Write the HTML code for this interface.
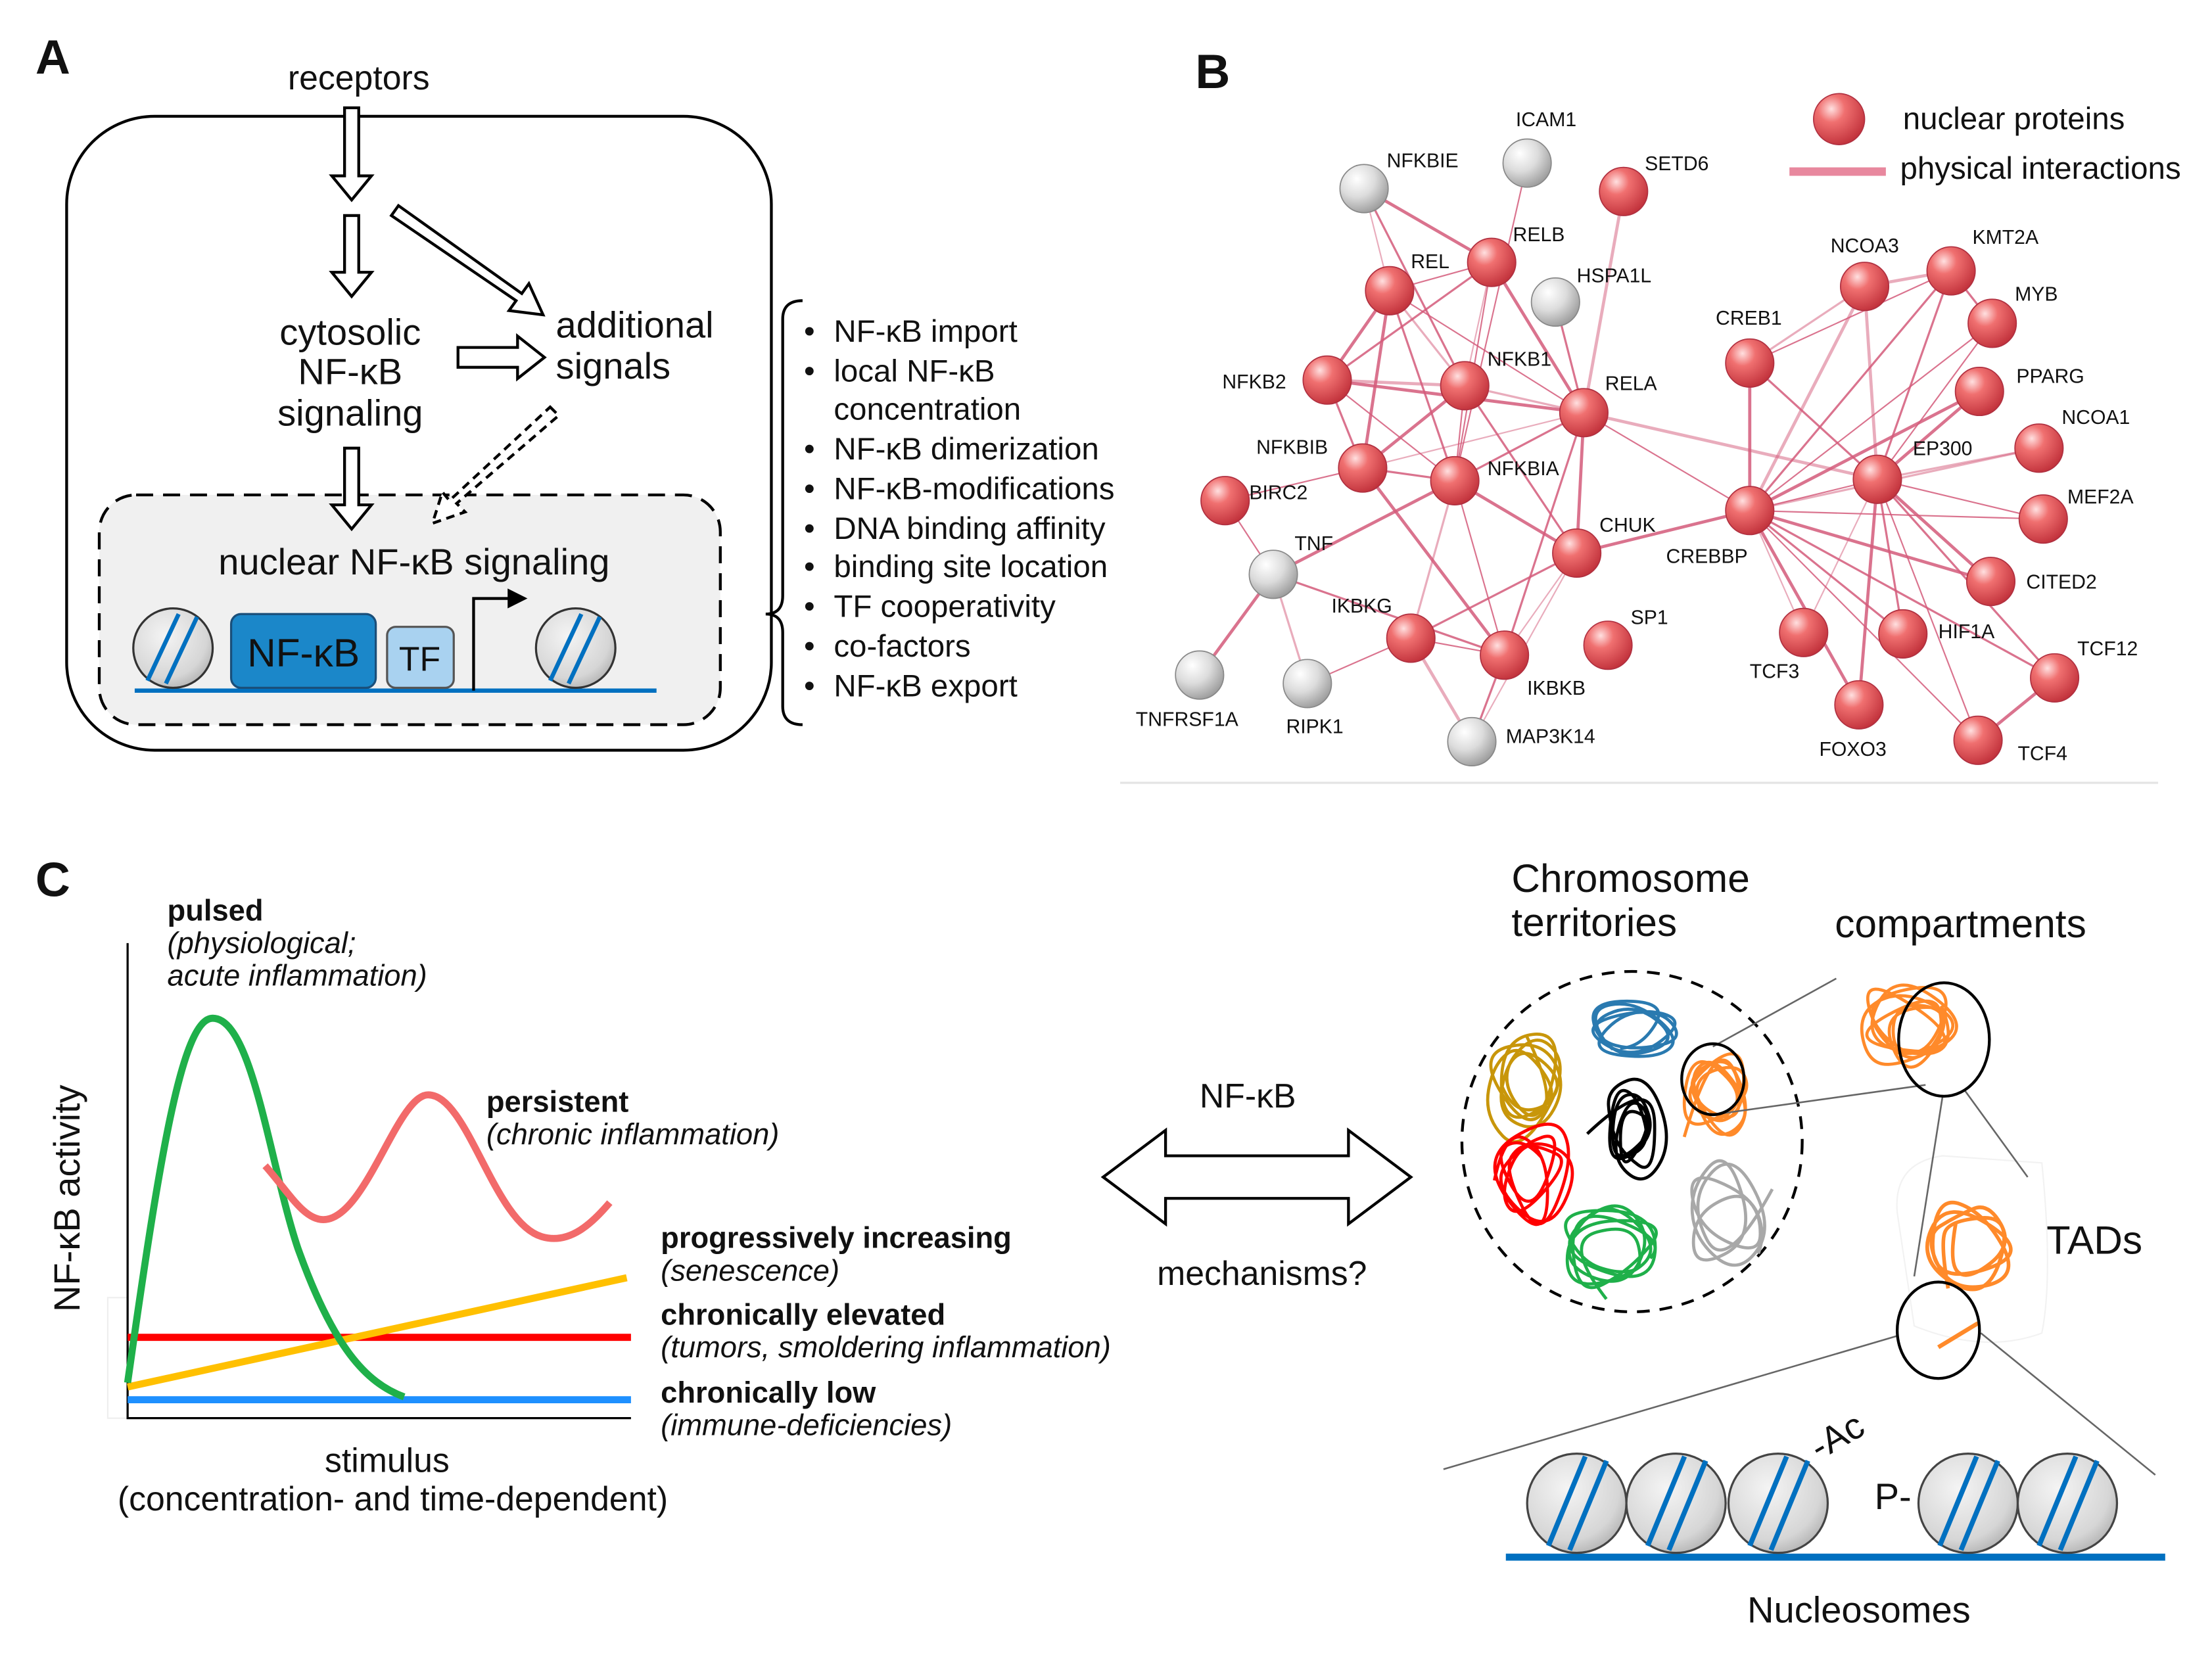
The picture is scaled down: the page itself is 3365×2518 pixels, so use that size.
<!DOCTYPE html>
<html><head><meta charset="utf-8"><style>
html,body{margin:0;padding:0;background:#fff}
svg{display:block}
text{font-family:"Liberation Sans",sans-serif;fill:#111}
.b{font-weight:bold}
.i{font-style:italic}
.nl{font-size:14px}
</style></head><body>
<svg id="s" width="3365" height="2518" viewBox="0 0 1560 1167" preserveAspectRatio="none" xmlns="http://www.w3.org/2000/svg">
<defs>
<radialGradient id="gr" cx="0.35" cy="0.3" r="0.75"><stop offset="0" stop-color="#ffe0e0"/><stop offset="0.35" stop-color="#f07070"/><stop offset="1" stop-color="#c0303a"/></radialGradient>
<radialGradient id="gg" cx="0.35" cy="0.3" r="0.75"><stop offset="0" stop-color="#ffffff"/><stop offset="0.5" stop-color="#dcdcdc"/><stop offset="1" stop-color="#9a9a9a"/></radialGradient>
<radialGradient id="gn" cx="0.4" cy="0.35" r="0.75"><stop offset="0" stop-color="#f4f4f4"/><stop offset="0.7" stop-color="#d6d6d6"/><stop offset="1" stop-color="#a8a8a8"/></radialGradient>
</defs>

<!-- PANEL A -->
<text x="25" y="52" class="b" font-size="34">A</text>
<text x="253" y="63" font-size="24" text-anchor="middle">receptors</text>
<rect x="47" y="82" width="497" height="447" rx="62" fill="none" stroke="#000" stroke-width="2"/>
<rect x="70" y="349" width="438" height="162" rx="26" fill="#f0f0f0" stroke="#000" stroke-width="2" stroke-dasharray="12,7"/>
<g fill="#fff" stroke="#000" stroke-width="2">
<path d="M243,76 h10 v48 h9 l-14,17 l-14,-17 h9 z"/>
<path d="M243,152 h10 v40 h9 l-14,17 l-14,-17 h9 z"/>
<path d="M243,316 h10 v40 h9 l-14,17 l-14,-17 h9 z"/>
<path d="M323,245 h42 v-8 l19,15 l-19,15 v-8 h-42 z"/>
<path d="M276,152 l5,-7 l87,62 l5,-7 l10,22 l-24,-3 l5,-7 z"/>
<path d="M388,287 l6,6 l-72,62 l6,6 l-23,8 l7,-22 l5,6 z" stroke-dasharray="6,4"/>
</g>
<text x="247" y="243" font-size="26" text-anchor="middle">cytosolic</text>
<text x="247" y="271" font-size="26" text-anchor="middle">NF-κB</text>
<text x="247" y="300" font-size="26" text-anchor="middle">signaling</text>
<text x="392" y="238" font-size="26">additional</text>
<text x="392" y="267" font-size="26">signals</text>
<text x="292" y="405" font-size="26" text-anchor="middle">nuclear NF-κB signaling</text>
<line x1="95" y1="487" x2="463" y2="487" stroke="#0070c0" stroke-width="3"/>
<g>
<circle cx="122" cy="457" r="28" fill="url(#gn)" stroke="#333" stroke-width="1.5"/>
<line x1="104" y1="480" x2="126" y2="433" stroke="#0070c0" stroke-width="3"/>
<line x1="117" y1="482" x2="139" y2="435" stroke="#0070c0" stroke-width="3"/>
<circle cx="406" cy="457" r="28" fill="url(#gn)" stroke="#333" stroke-width="1.5"/>
<line x1="388" y1="480" x2="410" y2="433" stroke="#0070c0" stroke-width="3"/>
<line x1="401" y1="482" x2="423" y2="435" stroke="#0070c0" stroke-width="3"/>
</g>
<rect x="163" y="433" width="102" height="52" rx="7" fill="#1b87c9" stroke="#1a4f7a" stroke-width="1.5"/>
<text x="214" y="470" font-size="28" text-anchor="middle">NF-κB</text>
<rect x="273" y="442" width="47" height="43" rx="6" fill="#a9d2f0" stroke="#555" stroke-width="1.5"/>
<text x="296" y="473" font-size="24" text-anchor="middle">TF</text>
<path d="M334,487 V422 H360" fill="none" stroke="#000" stroke-width="2"/>
<path d="M358,415 L372,422 L358,429 z" fill="#000"/>
<path d="M566,212 Q552,212 552,225 V420 Q552,433 540,433 Q552,433 552,446 V498 Q552,511 566,511" fill="none" stroke="#000" stroke-width="2"/>
<g font-size="22">
<text x="567" y="241">•</text><text x="588" y="241">NF-κB import</text>
<text x="567" y="269">•</text><text x="588" y="269">local NF-κB</text>
<text x="588" y="296">concentration</text>
<text x="567" y="324">•</text><text x="588" y="324">NF-κB dimerization</text>
<text x="567" y="352">•</text><text x="588" y="352">NF-κB-modifications</text>
<text x="567" y="380">•</text><text x="588" y="380">DNA binding affinity</text>
<text x="567" y="407">•</text><text x="588" y="407">binding site location</text>
<text x="567" y="435">•</text><text x="588" y="435">TF cooperativity</text>
<text x="567" y="463">•</text><text x="588" y="463">co-factors</text>
<text x="567" y="491">•</text><text x="588" y="491">NF-κB export</text>
</g>

<!-- PANEL B -->
<text x="843" y="62" class="b" font-size="34">B</text>
<line x1="790" y1="552" x2="1522" y2="552" stroke="#e4e4e4" stroke-width="1.5"/>
<g id="edges" stroke="#d45a7a" stroke-linecap="round"></g>
<g id="nodes"></g>
<circle cx="1297" cy="84" r="18" fill="url(#gr)" stroke="#b03040" stroke-width="0.8"/>
<text x="1342" y="91" font-size="22">nuclear proteins</text>
<line x1="1262" y1="121" x2="1330" y2="121" stroke="#e8889e" stroke-width="6"/>
<text x="1340" y="126" font-size="22">physical interactions</text>
<g class="nl">
<text x="1069" y="89">ICAM1</text>
<text x="978" y="118">NFKBIE</text>
<text x="1160" y="120">SETD6</text>
<text x="1067" y="170">RELB</text>
<text x="995" y="189">REL</text>
<text x="1112" y="199">HSPA1L</text>
<text x="862" y="274">NFKB2</text>
<text x="1049" y="258">NFKB1</text>
<text x="1132" y="275">RELA</text>
<text x="886" y="320">NFKBIB</text>
<text x="1049" y="335">NFKBIA</text>
<text x="881" y="352">BIRC2</text>
<text x="913" y="388">TNF</text>
<text x="1128" y="375">CHUK</text>
<text x="939" y="432">IKBKG</text>
<text x="1077" y="490">IKBKB</text>
<text x="1150" y="440">SP1</text>
<text x="801" y="512">TNFRSF1A</text>
<text x="907" y="517">RIPK1</text>
<text x="1062" y="524">MAP3K14</text>
<text x="1210" y="229">CREB1</text>
<text x="1291" y="178">NCOA3</text>
<text x="1391" y="172">KMT2A</text>
<text x="1421" y="212">MYB</text>
<text x="1422" y="270">PPARG</text>
<text x="1454" y="299">NCOA1</text>
<text x="1349" y="321">EP300</text>
<text x="1458" y="355">MEF2A</text>
<text x="1175" y="397">CREBBP</text>
<text x="1429" y="415">CITED2</text>
<text x="1367" y="450">HIF1A</text>
<text x="1234" y="478">TCF3</text>
<text x="1465" y="462">TCF12</text>
<text x="1283" y="533">FOXO3</text>
<text x="1423" y="536">TCF4</text>
</g>

<!-- PANEL C -->
<text x="25" y="632" class="b" font-size="34">C</text>
<text x="118" y="649" class="b" font-size="21">pulsed</text>
<text x="118" y="672" class="i" font-size="21">(physiological;</text>
<text x="118" y="695" class="i" font-size="21">acute inflammation)</text>
<rect x="76" y="915" width="14" height="85" fill="none" stroke="#eee"/>
<path d="M90,665 V1000 H445" fill="none" stroke="#000" stroke-width="1.5"/>
<text transform="translate(56,845) rotate(-90)" font-size="26" text-anchor="middle">NF-κB activity</text>
<text x="273" y="1038" font-size="24" text-anchor="middle">stimulus</text>
<text x="277" y="1065" font-size="24" text-anchor="middle">(concentration- and time-dependent)</text>
<line x1="90" y1="987" x2="445" y2="987" stroke="#1e90ff" stroke-width="5"/>
<line x1="90" y1="943" x2="445" y2="943" stroke="#ff0000" stroke-width="5"/>
<line x1="90" y1="978" x2="442" y2="901" stroke="#ffc000" stroke-width="5"/>
<path d="M90,975 C112,820 128,718 150,718 C178,718 190,820 210,880 C235,950 258,975 285,985" fill="none" stroke="#1fb04a" stroke-width="5"/>
<path d="M187,822 C203,840 214,860 228,860 C258,860 280,772 302,772 C330,772 348,862 382,872 C402,878 418,862 430,848" fill="none" stroke="#f26a6a" stroke-width="5"/>
<text x="343" y="784" class="b" font-size="21">persistent</text>
<text x="343" y="807" class="i" font-size="21">(chronic inflammation)</text>
<text x="466" y="880" class="b" font-size="21">progressively increasing</text>
<text x="466" y="903" class="i" font-size="21">(senescence)</text>
<text x="466" y="934" class="b" font-size="21">chronically elevated</text>
<text x="466" y="957" class="i" font-size="21">(tumors, smoldering inflammation)</text>
<text x="466" y="989" class="b" font-size="21">chronically low</text>
<text x="466" y="1012" class="i" font-size="21">(immune-deficiencies)</text>
<path d="M778,830 L822,797 V815 H951 V797 L995,830 L951,863 V845 H822 V863 z" fill="#fff" stroke="#000" stroke-width="2"/>
<text x="880" y="781" font-size="24" text-anchor="middle">NF-κB</text>
<text x="890" y="906" font-size="24" text-anchor="middle">mechanisms?</text>
<text x="1066" y="629" font-size="28">Chromosome</text>
<text x="1066" y="660" font-size="28">territories</text>
<text x="1294" y="661" font-size="28">compartments</text>
<text x="1443" y="884" font-size="28">TADs</text>
<circle cx="1151" cy="805" r="120" fill="none" stroke="#000" stroke-width="2" stroke-dasharray="9,7"/>
<g id="scr" fill="none" stroke-width="2.2" stroke-linejoin="round"></g>
<path d="M1338,855 Q1335,820 1370,815 L1440,820 Q1448,900 1440,940 Q1400,955 1350,935 Z" fill="none" stroke="#f2f2f2" stroke-width="1"/>
<g stroke="#666" stroke-width="1.2">
<line x1="1208" y1="738" x2="1295" y2="690"/>
<line x1="1215" y1="785" x2="1358" y2="765"/>
<line x1="1370" y1="773" x2="1350" y2="900"/>
<line x1="1385" y1="768" x2="1430" y2="830"/>
<line x1="1338" y1="942" x2="1018" y2="1036"/>
<line x1="1397" y1="940" x2="1520" y2="1040"/>
</g>
<ellipse cx="1208" cy="761" rx="22" ry="25" fill="none" stroke="#000" stroke-width="2"/>
<ellipse cx="1371" cy="733" rx="32" ry="40" fill="none" stroke="#000" stroke-width="2"/>
<line x1="1367" y1="950" x2="1395" y2="933" stroke="#ff8a2a" stroke-width="3"/>
<ellipse cx="1367" cy="938" rx="29" ry="34" fill="none" stroke="#000" stroke-width="2"/>
<line x1="1062" y1="1098" x2="1527" y2="1098" stroke="#0070c0" stroke-width="5"/>
<g id="nuc"></g>
<text transform="translate(1283,1030) rotate(-30)" font-size="26">-Ac</text>
<text x="1322" y="1064" font-size="26">P-</text>
<text x="1311" y="1144" font-size="26" text-anchor="middle">Nucleosomes</text>
</svg>
<script>
var NS="http://www.w3.org/2000/svg";
function el(p,t,a){var e=document.createElementNS(NS,t);for(var k in a)e.setAttribute(k,a[k]);p.appendChild(e);return e;}
var N={ICAM1:[1077,115,0],NFKBIE:[962,133,0],SETD6:[1145,135,1],RELB:[1052,185,1],REL:[980,205,1],HSPA1L:[1097,213,0],NFKB2:[936,268,1],NFKB1:[1033,272,1],RELA:[1117,291,1],NFKBIB:[961,330,1],NFKBIA:[1026,339,1],BIRC2:[864,353,1],TNF:[898,405,0],CHUK:[1112,390,1],IKBKG:[995,450,1],IKBKB:[1061,462,1],SP1:[1134,455,1],TNFRSF1A:[846,476,0],RIPK1:[922,482,0],MAP3K14:[1038,523,0],CREB1:[1234,256,1],NCOA3:[1315,202,1],KMT2A:[1376,191,1],MYB:[1405,228,1],PPARG:[1396,276,1],NCOA1:[1438,316,1],EP300:[1324,338,1],MEF2A:[1441,366,1],CREBBP:[1234,360,1],CITED2:[1404,410,1],HIF1A:[1342,447,1],TCF3:[1272,446,1],TCF12:[1449,478,1],FOXO3:[1311,497,1],TCF4:[1395,522,1]};
var E="NFKBIE-REL NFKBIE-RELB NFKBIE-NFKB1 ICAM1-NFKBIA SETD6-RELA HSPA1L-RELA REL-RELB REL-NFKB2 REL-NFKB1 REL-RELA REL-NFKBIB REL-NFKBIA RELB-NFKB1 RELB-RELA RELB-NFKB2 RELB-NFKBIA NFKB2-NFKB1 NFKB2-NFKBIB NFKB2-NFKBIA NFKB2-RELA NFKB1-RELA NFKB1-NFKBIA NFKB1-NFKBIB RELA-NFKBIA RELA-NFKBIB RELA-CHUK RELA-IKBKB RELA-CREBBP RELA-EP300 NFKBIB-NFKBIA NFKBIB-BIRC2 NFKBIA-CHUK NFKBIA-IKBKG NFKBIA-IKBKB NFKBIB-IKBKB CHUK-IKBKG CHUK-IKBKB CHUK-CREBBP CHUK-NFKB1 IKBKG-IKBKB IKBKG-MAP3K14 IKBKB-MAP3K14 BIRC2-TNF TNF-TNFRSF1A TNF-RIPK1 RIPK1-IKBKG TNF-NFKBIA TNF-IKBKB CHUK-MAP3K14 CREB1-CREBBP CREB1-EP300 CREBBP-EP300 CREBBP-NCOA3 CREBBP-KMT2A CREBBP-MYB CREBBP-PPARG CREBBP-NCOA1 CREBBP-MEF2A CREBBP-CITED2 CREBBP-HIF1A CREBBP-TCF3 CREBBP-FOXO3 CREBBP-TCF12 CREBBP-TCF4 EP300-NCOA3 EP300-KMT2A EP300-MYB EP300-PPARG EP300-NCOA1 EP300-MEF2A EP300-CITED2 EP300-HIF1A EP300-TCF3 EP300-FOXO3 EP300-TCF12 EP300-TCF4 NCOA3-KMT2A KMT2A-MYB CREB1-KMT2A TCF4-TCF12 CREB1-NCOA3".split(" ");
var eg=document.getElementById("edges"),ng=document.getElementById("nodes");
E.forEach(function(s,i){var p=s.split("-"),a=N[p[0]],b=N[p[1]];var w=(i%3==0)?1:(i%3==1?2.2:1.5);el(eg,"line",{x1:a[0],y1:a[1],x2:b[0],y2:b[1],"stroke-width":w,"stroke-opacity":(i%4==0?0.5:0.85)});});
for(var k in N){var n=N[k];el(ng,"circle",{cx:n[0],cy:n[1],r:17,fill:n[2]?"url(#gr)":"url(#gg)",stroke:n[2]?"#b03040":"#888","stroke-width":0.8});}
var seed=7;function rnd(){seed=(seed*16807)%2147483647;return seed/2147483647;}
function scribble(cx,cy,rx,ry,col,n,w){var pts=[];var a=rnd()*6.283;for(var i=0;i<n;i++){a+=0.7+rnd()*1.6;var r=0.55+0.7*rnd();pts.push([cx+Math.cos(a)*rx*r,cy+Math.sin(a)*ry*r]);}
var d="M"+pts[0][0].toFixed(1)+","+pts[0][1].toFixed(1);for(var i=1;i<n-1;i++){var mx=(pts[i][0]+pts[i+1][0])/2,my=(pts[i][1]+pts[i+1][1])/2;d+=" Q"+pts[i][0].toFixed(1)+","+pts[i][1].toFixed(1)+" "+mx.toFixed(1)+","+my.toFixed(1);}
el(document.getElementById("scr"),"path",{d:d,stroke:col,"stroke-width":w||2.2});}
scribble(1152,725,34,24,"#2a7ab0",22);
scribble(1080,762,34,46,"#c8960a",24);
scribble(1152,795,28,38,"#000",24);
scribble(1212,772,30,36,"#ff8a2a",24);
scribble(1078,832,32,44,"#ff0000",24);
scribble(1135,878,38,38,"#1fb04a",24);
scribble(1217,858,30,42,"#a8a8a8",20);
scribble(1348,725,42,40,"#ff8a2a",28);
scribble(1392,878,40,40,"#ff8a2a",20,2.6);
var nuc=document.getElementById("nuc");
[1112,1182,1254,1388,1458].forEach(function(x){var y=1060;el(nuc,"circle",{cx:x,cy:y,r:35,fill:"url(#gn)",stroke:"#444","stroke-width":1.5});
el(nuc,"line",{x1:x-20,y1:y+30,x2:x+6,y2:y-33,stroke:"#0070c0","stroke-width":3.5});el(nuc,"line",{x1:x-5,y1:y+33,x2:x+21,y2:y-30,stroke:"#0070c0","stroke-width":3.5});});
</script>
</body></html>
